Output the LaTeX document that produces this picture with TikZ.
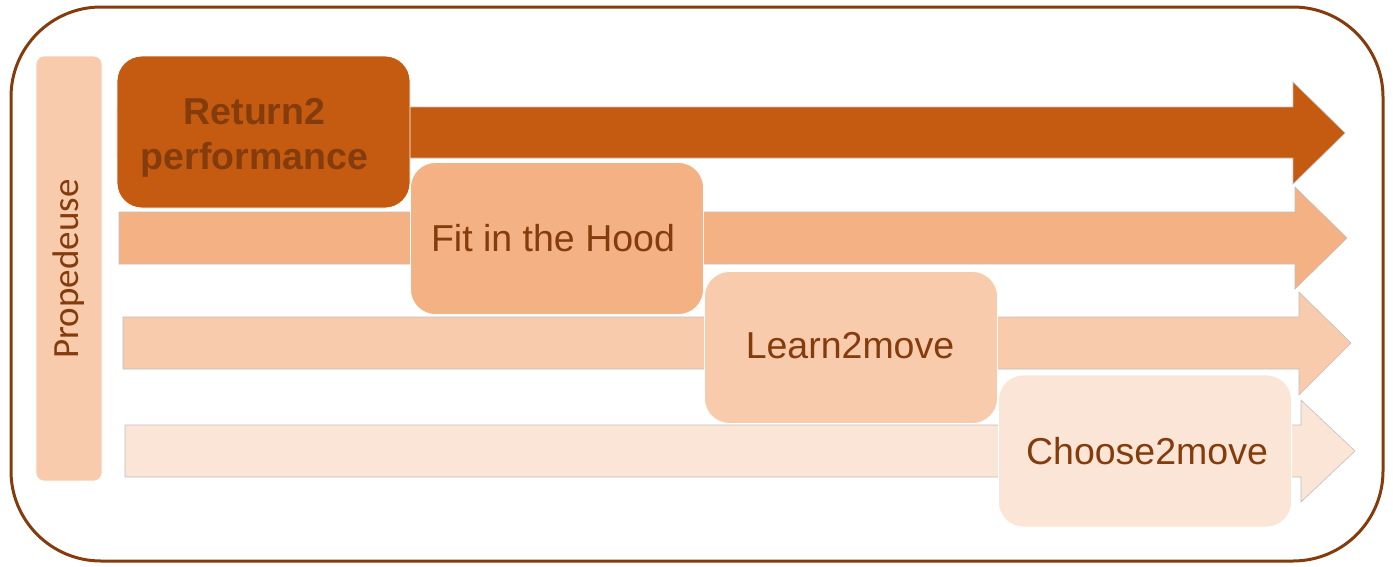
\documentclass[tikz,border=0pt]{standalone}
\usepackage{fontspec}
\setmainfont{Liberation Sans}
\newfontfamily\calib{Carlito}
\definecolor{dark}{HTML}{C55A11}
\definecolor{mid}{HTML}{F4B183}
\definecolor{light}{HTML}{F8CBAD}
\definecolor{pale}{HTML}{FBE5D6}
\definecolor{brownt}{HTML}{843C0C}
\begin{document}
\begin{tikzpicture}[x=1pt,y=-1pt,
  blockarrow/.style={draw=black!25,line width=0.6pt},
  phase/.style={draw=white,line width=0.8pt,rounded corners=25pt,inner sep=0pt,
    minimum width=293pt,minimum height=152pt},
  phasetext/.style={text=brownt,inner sep=0pt,
    font=\fontsize{37.5}{45}\selectfont,align=center},
]
\useasboundingbox (0,0) rectangle (1393,566);
\draw[brownt,line width=3pt,rounded corners=90pt] (11,7) rectangle (1383,561);
\node[fill=light,draw=white,line width=0.8pt,rounded corners=8pt,minimum width=66pt,minimum height=425pt,inner sep=0pt]
  (prop) at (69,268.5) {};
\node[rotate=90,text=brownt,font=\calib\fontsize{37}{44}\selectfont] (proptext) at (69,269) {Propedeuse};
% row 1
\draw[blockarrow,fill=dark] (117,107) -- (1293,107) -- (1293,82) -- (1345,133) -- (1293,184) -- (1293,158) -- (117,158) -- cycle;
\node[phase,fill=dark] (r2p) at (263.5,132) {};
\node[phasetext,font=\bfseries\fontsize{37.5}{45}\selectfont] (r2pt) at (254.5,138) {Return2\\performance};
% row 2
\draw[blockarrow,fill=mid] (119,212) -- (1295,212) -- (1295,187) -- (1347,238) -- (1295,289) -- (1295,264) -- (119,264) -- cycle;
\node[phase,fill=mid] (fith) at (557,238.5) {};
\node[phasetext] (fitht) at (553,238.5) {Fit in the Hood};
% row 3
\draw[blockarrow,fill=light] (123,317) -- (1299,317) -- (1299,292) -- (1351,343) -- (1299,395) -- (1299,369) -- (123,369) -- cycle;
\node[phase,fill=light] (l2m) at (851,347.5) {};
\node[phasetext] (l2mt) at (850,346) {Learn2move};
% row 4
\draw[blockarrow,fill=pale] (125,425) -- (1301,425) -- (1301,400) -- (1355,451) -- (1301,502) -- (1301,477) -- (125,477) -- cycle;
\node[phase,fill=pale] (c2m) at (1145,451) {};
\node[phasetext] (c2mt) at (1147,451) {Choose2move};
\end{tikzpicture}
\end{document}
